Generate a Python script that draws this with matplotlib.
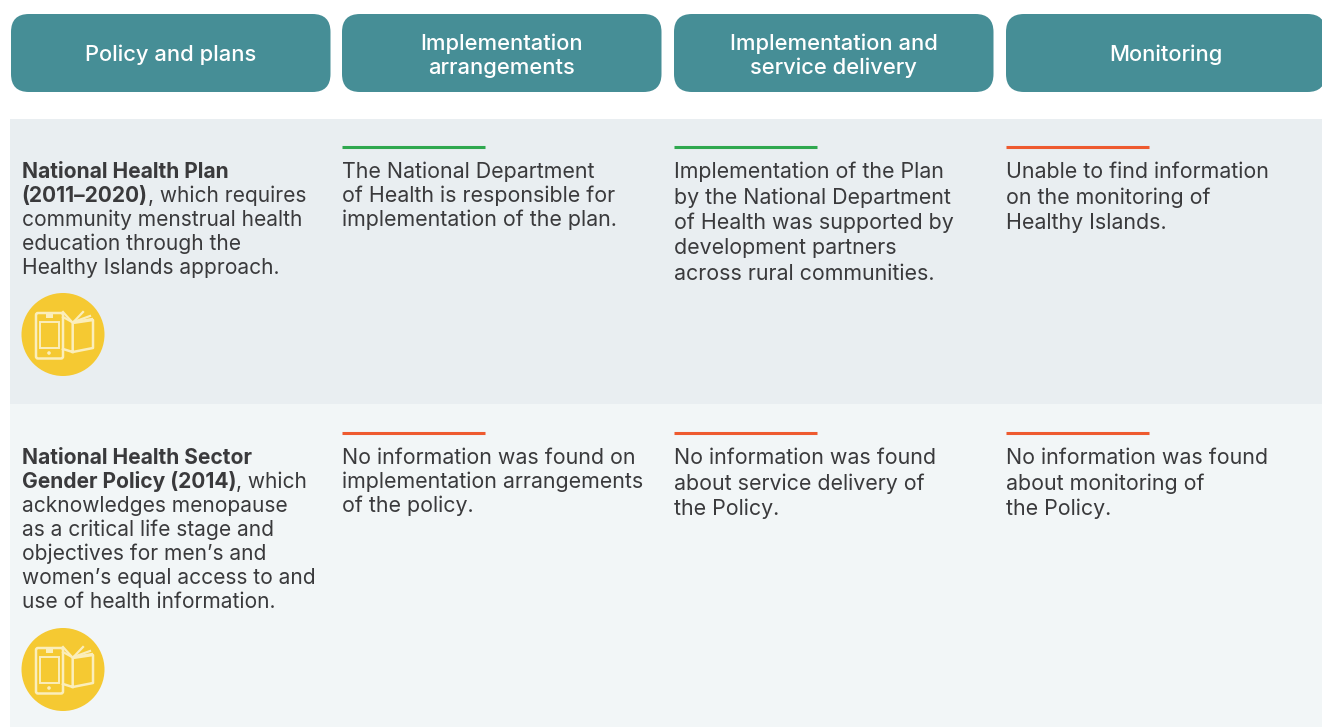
import matplotlib
matplotlib.use("Agg")
import matplotlib.pyplot as plt
from matplotlib.patches import Circle, FancyBboxPatch, Rectangle

plt.rcParams["font.family"] = ["Inter", "DejaVu Sans"]

TEAL = "#468e96"
ROW_BG = ["#e9eef1", "#f2f6f7"]
DARK = "#3a3a3c"
GREEN = "#2fa84f"
RED = "#ee5a2f"
YELLOW = "#f5c932"
ICON = "#fbeebb"

headers = [["Policy and plans"],
           ["Implementation", "arrangements"],
           ["Implementation and", "service delivery"],
           ["Monitoring"]]

policy_bold = [["National Health Plan", "(2011–2020)"],
               ["National Health Sector", "Gender Policy (2014)"]]
policy_rest = [[", which requires", "community menstrual health",
                "education through the", "Healthy Islands approach."],
               [", which", "acknowledges menopause",
                "as a critical life stage and", "objectives for men’s and",
                "women’s equal access to and", "use of health information."]]

cells = [[["The National Department", "of Health is responsible for",
           "implementation of the plan."],
          ["Implementation of the Plan", "by the National Department",
           "of Health was supported by", "development partners",
           "across rural communities."],
          ["Unable to find information", "on the monitoring of",
           "Healthy Islands."]],
         [["No information was found on", "implementation arrangements",
           "of the policy."],
          ["No information was found", "about service delivery of",
           "the Policy."],
          ["No information was found", "about monitoring of",
           "the Policy."]]]
status = [[GREEN, GREEN, RED], [RED, RED, RED]]

col_x = [11, 342, 674, 1006]
BODY = 15.4
FIRST_COL = 15.1


def icon(ax, cx, cy):
    ax.add_patch(Circle((cx, cy), 41.5, color=YELLOW, lw=0))
    # phone
    ax.add_patch(FancyBboxPatch((cx - 27, cy - 21.5), 27, 45.5, boxstyle="round,pad=0,rounding_size=2",
                                fc="none", ec=ICON, lw=1.8))
    ax.add_patch(Rectangle((cx - 23, cy - 12.5), 19, 26, fc="none", ec=ICON, lw=1.4))
    ax.add_patch(Circle((cx - 14, cy + 18.5), 1.8, color=ICON, lw=0))
    ax.add_patch(Rectangle((cx - 17, cy - 20.5), 7, 3.5, color=ICON, lw=0))
    # book
    ax.plot([cx, cx + 9.7, cx + 30, cx + 30, cx + 9.7, cx + 9.7],
            [cy + 14.5, cy + 17.5, cy + 13.5, cy - 14.5, cy - 11.5, cy + 17.5], color=ICON, lw=1.8)
    for ex, ey in [(20, -22.5), (27, -18.5), (29, -15.5)]:
        ax.plot([cx + 10.5, cx + ex], [cy - 12.5, cy + ey], color=ICON, lw=1.6)
    for ey in [-22.5, -17.5]:
        ax.plot([cx, cx + 9], [cy + ey, cy - 12.5], color=ICON, lw=1.6)


fig = plt.figure(figsize=(13.22, 7.27), dpi=100)
ax = fig.add_axes([0, 0, 1, 1])
ax.set_xlim(0, 1322)
ax.set_ylim(727, 0)
ax.axis("off")

# header pills
for i, lines in enumerate(headers):
    ax.add_patch(FancyBboxPatch((col_x[i], 14), 319.5, 78, boxstyle="round,pad=0,rounding_size=18",
                                fc=TEAL, ec="none"))
    ys = [55] if len(lines) == 1 else [44, 68]
    for y, t in zip(ys, lines):
        ax.text(col_x[i] + 159.5, y, t, color="white", fontsize=15.8, fontweight="medium",
                ha="center", va="center")

# row bands
ax.add_patch(Rectangle((10, 119), 1312, 285, fc=ROW_BG[0], ec="none"))
ax.add_patch(Rectangle((10, 404), 1312, 323, fc=ROW_BG[1], ec="none"))

row_top = [172, 458]
rule_y = [147, 433]
r = fig.canvas.get_renderer()
for row in range(2):
    # first column, bold lead then regular text
    y = row_top[row]
    for t in policy_bold[row]:
        last = ax.text(21.5, y, t, color=DARK, fontsize=FIRST_COL, fontweight="bold", va="center")
        y += 24
    y -= 24
    x_end = last.get_window_extent(r).x1
    ax.text(x_end, y, policy_rest[row][0], color=DARK, fontsize=FIRST_COL, va="center")
    for t in policy_rest[row][1:]:
        y += 24
        ax.text(21.5, y, t, color=DARK, fontsize=FIRST_COL, va="center")

    for c in range(3):
        x = col_x[c + 1]
        ax.plot([x - 0.5, x + 143], [rule_y[row]] * 2, color=status[row][c], lw=2.2, solid_capstyle="butt")
        step = 24 if c == 0 else 25.4
        for k, t in enumerate(cells[row][c]):
            ax.text(x - 0.5, row_top[row] + k * step, t, color=DARK, fontsize=BODY, va="center")

icon(ax, 63, 334.5)
icon(ax, 63, 669.5)

fig.savefig("out.png", dpi=100)
